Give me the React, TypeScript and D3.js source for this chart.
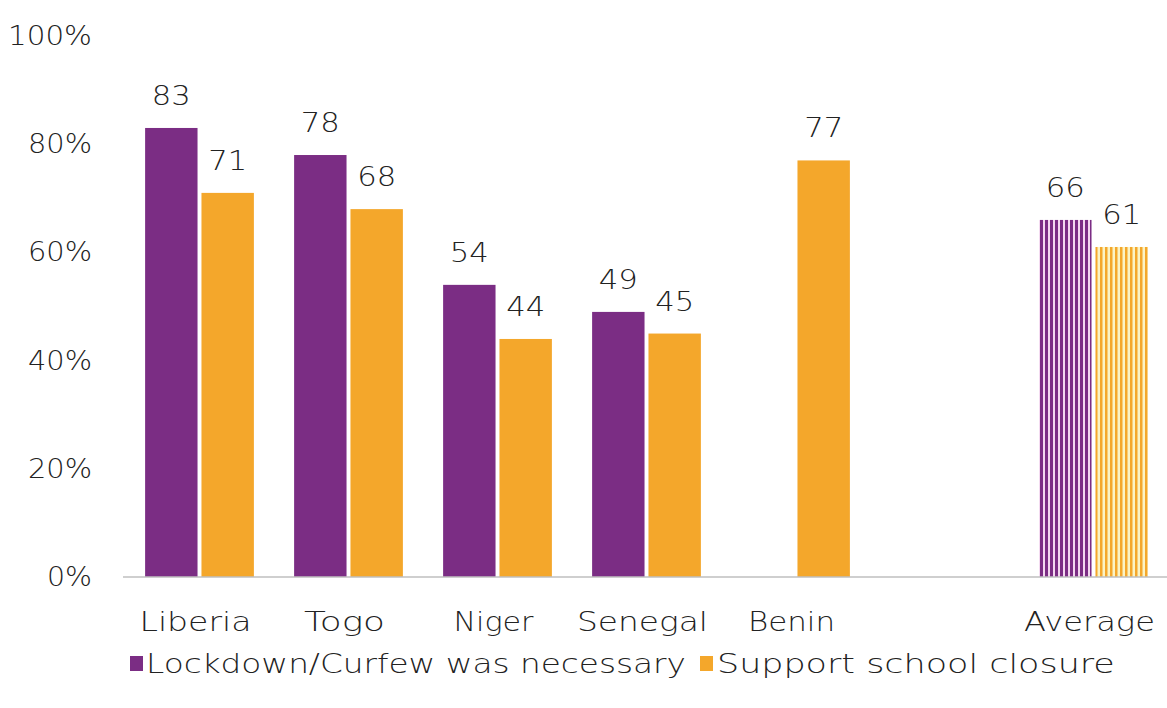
import React, { useEffect, useRef } from "react";
import * as d3 from "d3";

const categories = ["Liberia", "Togo", "Niger", "Senegal", "Benin", "", "Average"];
const lockdown: (number | null)[] = [83, 78, 54, 49, null, null, 66];
const school: (number | null)[] = [71, 68, 44, 45, 77, null, 61];
const yTicks = [0, 20, 40, 60, 80, 100];
const seriesNames = ["Lockdown/Curfew was necessary", "Support school closure"];

const W = 1167, H = 708;
const PURPLE = "#7B2D84";
const ORANGE = "#F4A72B";
const FONT = "'DejaVu Sans', sans-serif";
const TXT = "#222";
const FW = 300;
const FS = 26;
const CAT_W: Record<string, number> = { Liberia: 112, Togo: 81, Niger: 80, Senegal: 131, Benin: 87, Average: 131 };

export default function App() {
  const svgRef = useRef<SVGSVGElement>(null);
  const x0 = d3.scaleBand().domain(categories.map((c, i) => String(i))).range([125, 1168]).paddingInner(0.27).paddingOuter(0.135);
  const x1 = d3.scaleBand().domain(["a", "b"]).range([0, x0.bandwidth()]).paddingInner(0.07);
  const y = d3.scaleLinear().domain([0, 100]).range([577, 36]);
  const avgIdx = categories.indexOf("Average");

  useEffect(() => {
    const svg = svgRef.current;
    if (!svg) return;
    svg.querySelectorAll<SVGTextElement>("text[data-w]").forEach((t) => {
      const target = +t.getAttribute("data-w")!;
      const len = t.getComputedTextLength();
      if (!len) return;
      const s = target / len;
      const x = +t.getAttribute("x")!;
      t.setAttribute("transform", `translate(${x},0) scale(${s},1) translate(${-x},0)`);
    });
  }, []);

  const bars: React.ReactNode[] = [];
  const labels: React.ReactNode[] = [];
  categories.forEach((c, i) => {
    const gx = x0(String(i))!;
    [lockdown[i], school[i]].forEach((v, k) => {
      if (v == null) return;
      const bx = gx + x1(k === 0 ? "a" : "b")!;
      const fill = i === avgIdx ? (k === 0 ? "url(#hatchP)" : "url(#hatchO)") : k === 0 ? PURPLE : ORANGE;
      bars.push(<rect key={`b${i}${k}`} x={bx} y={y(v)} width={x1.bandwidth()} height={y(0) - y(v)} fill={fill} />);
      labels.push(
        <text key={`l${i}${k}`} x={bx + x1.bandwidth() / 2} y={y(v) - 23} textAnchor="middle" fontSize={FS} fill={TXT} fontFamily={FONT}
          data-w={39} fontWeight={FW}>{v}</text>
      );
    });
  });

  return (
    <svg ref={svgRef} width={W} height={H} style={{ position: "absolute", left: 0, top: 0, background: "#fff" }}>
      <defs>
        <pattern id="hatchP" patternUnits="userSpaceOnUse" width={5} height={10}>
          <rect width={5} height={10} fill="#f3d7ef" />
          <rect width={3} height={10} fill={PURPLE} />
        </pattern>
        <pattern id="hatchO" patternUnits="userSpaceOnUse" width={5} height={10}>
          <rect width={5} height={10} fill="#fbf3c4" />
          <rect width={2.5} height={10} fill={ORANGE} />
        </pattern>
      </defs>
      {yTicks.map((t) => {
        const s = `${t}%`;
        const len = s.length === 4 ? 84 : s.length === 3 ? 64 : 45;
        return (
          <text key={t} x={92} y={y(t) + 9} textAnchor="end" fontSize={FS} fill={TXT} fontFamily={FONT} fontWeight={FW}
            data-w={len}>{s}</text>
        );
      })}
      {bars}
      <line x1={123} x2={1167} y1={y(0)} y2={y(0)} stroke="#bfbfbf" strokeWidth={1.5} />
      {labels}
      {categories.map((c, i) => c ? (
        <text key={c + i} x={x0(String(i))! + x0.bandwidth() / 2 - 4} y={631} textAnchor="middle" fontSize={FS} fill={TXT} fontFamily={FONT} fontWeight={FW}
          data-w={CAT_W[c]}>{c}</text>
      ) : null)}
      <rect x={130} y={656} width={13} height={15} fill={PURPLE} />
      <text x={146} y={673} fontSize={FS} fill={TXT} fontFamily={FONT} fontWeight={FW} data-w={540}>{seriesNames[0]}</text>
      <rect x={700} y={656} width={13} height={15} fill={ORANGE} />
      <text x={717} y={673} fontSize={FS} fill={TXT} fontFamily={FONT} fontWeight={FW} data-w={398}>{seriesNames[1]}</text>
    </svg>
  );
}
